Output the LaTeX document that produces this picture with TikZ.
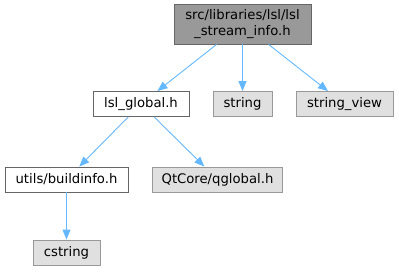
\documentclass[tikz,border=0pt]{standalone}
\usepackage{fontspec}
\setmainfont{DejaVu Sans}
\usetikzlibrary{arrows.meta,positioning}

\definecolor{edgeblue}{HTML}{63B8FF}
\definecolor{boxgray}{HTML}{E0E0E0}
\definecolor{topgray}{HTML}{999999}

\begin{document}
\begin{tikzpicture}[
  x=1pt, y=-1pt,
  font=\fontsize{13.2}{15.5}\selectfont,
  filebox/.style={draw=black!60, fill=white, line width=0.9pt, inner sep=0pt,
    minimum height=25pt, align=center},
  sysbox/.style={filebox, draw=topgray, fill=boxgray},
  rootbox/.style={filebox, fill=topgray, minimum height=40pt},
  dep/.style={draw=edgeblue, line width=0.9pt,
    -{Triangle[length=10pt,width=8pt]}}
]
\path[use as bounding box] (0,0) rectangle (399,271);

\node[rootbox, minimum width=137pt] (info) at (242.5,24)
  {src/libraries/lsl/lsl\\\_stream\_info.h};

\node[filebox, minimum width=96pt] (global) at (141,104) {lsl\_global.h};
\node[sysbox, minimum width=59pt] (string) at (242.5,104) {string};
\node[sysbox, minimum width=97pt] (stringview) at (344.5,104) {string\_view};

\node[filebox, minimum width=123pt] (buildinfo) at (66.5,179.5) {utils/buildinfo.h};
\node[sysbox, minimum width=130pt] (qglobal) at (217.5,179.5) {QtCore/qglobal.h};

\node[sysbox, minimum width=67pt] (cstring) at (66.5,252.5) {cstring};

\draw[dep] (info) -- (global);
\draw[dep] (info) -- (string);
\draw[dep] (info) -- (stringview);
\draw[dep] (global) -- (buildinfo);
\draw[dep] (global) -- (qglobal);
\draw[dep] (buildinfo) -- (cstring);
\end{tikzpicture}
\end{document}
